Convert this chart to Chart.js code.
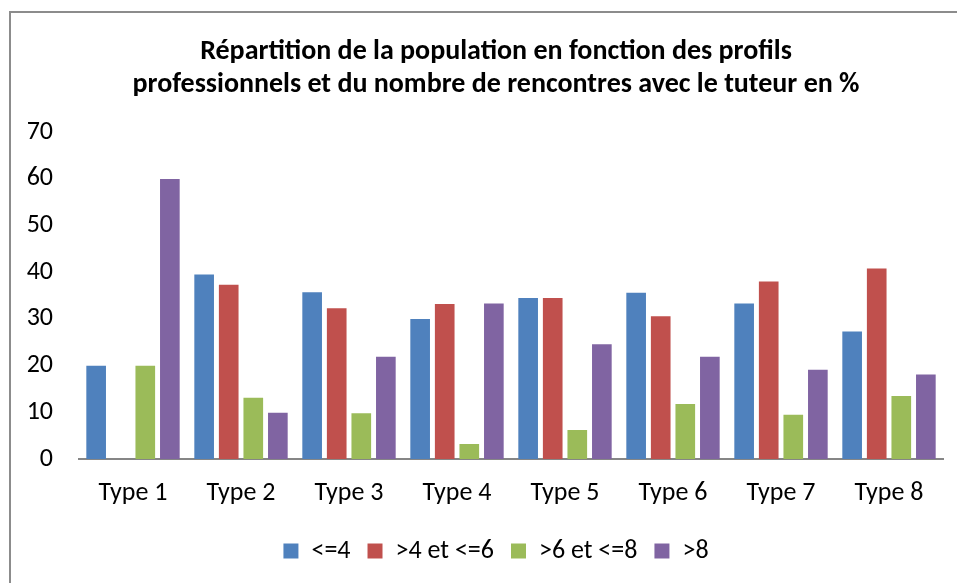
<!DOCTYPE html>
<html>
<head>
<meta charset="utf-8">
<script src="https://cdn.jsdelivr.net/npm/chart.js@4/dist/chart.umd.min.js"></script>
<style>
  html, body { margin: 0; padding: 0; background: #fff; }
  #frame { position: absolute; left: 9px; top: 11px; width: 1000px; height: 700px;
           border-left: 2px solid #8c8c8c; border-top: 2px solid #8c8c8c; }
  #wrap { position: absolute; left: 0; top: 0; width: 957px; height: 583px; }
</style>
</head>
<body>
<div id="frame"></div>
<div id="wrap"><canvas id="chart"></canvas></div>
<script>
  "use strict";
  var categories = ["Type 1", "Type 2", "Type 3", "Type 4", "Type 5", "Type 6", "Type 7", "Type 8"];
  var seriesNames = ["<=4", ">4 et <=6", ">6 et <=8", ">8"];
  var le4 = [20, 39.5, 35.7, 30.0, 34.5, 35.6, 33.3, 27.3];
  var gt4le6 = [0, 37.3, 32.3, 33.2, 34.5, 30.6, 38.0, 40.8];
  var gt6le8 = [20, 13.1, 9.8, 3.2, 6.2, 11.8, 9.5, 13.5];
  var gt8 = [60, 9.9, 21.9, 33.3, 24.6, 21.9, 19.1, 18.1];
  var yTicks = [0, 10, 20, 30, 40, 50, 60, 70];
  var titleLines = [
    "Répartition de la population en fonction des profils",
    "professionnels et du nombre de rencontres avec le tuteur en %"
  ];

  var colors = ["#4F81BD", "#C0504D", "#9BBB59", "#8064A2"];
  var values = [le4, gt4le6, gt6le8, gt8];
  var font = "Carlito, Lato, sans-serif";

  // title + legend are centred a bit right of the canvas centre, like Excel
  var shiftBoxes = {
    id: "shiftBoxes",
    afterLayout: function (chart) {
      if (chart.titleBlock) chart.titleBlock.left += 49;
      if (chart.legend) chart.legend.left += 49;
    }
  };

  new Chart(document.getElementById("chart"), {
    type: "bar",
    data: {
      labels: categories,
      datasets: values.map(function (v, i) {
        return {
          label: seriesNames[i],
          data: v,
          backgroundColor: colors[i],
          categoryPercentage: 0.91,
          barPercentage: 0.8
        };
      })
    },
    options: {
      responsive: true,
      maintainAspectRatio: false,
      animation: false,
      layout: { padding: { left: 0, right: 14, top: 0, bottom: 9 } },
      scales: {
        x: {
          grid: { display: false, drawTicks: false },
          border: { display: true, color: "#868686", width: 2 },
          ticks: { color: "#000", padding: 19, font: { family: font, size: 26 } },
          afterFit: function (s) { s.height = 62; }
        },
        y: {
          min: 0,
          max: 70,
          afterBuildTicks: function (s) {
            s.ticks = yTicks.map(function (t) { return { value: t }; });
          },
          grid: { display: false, drawTicks: false },
          border: { display: false },
          ticks: { color: "#000", padding: 26, font: { family: font, size: 26 } },
          afterFit: function (s) { s.width = 79; }
        }
      },
      plugins: {
        title: {
          display: true,
          text: titleLines,
          color: "#000",
          font: { family: font, size: 28, weight: "bold", lineHeight: 1.2 },
          padding: { top: 35, bottom: 30 }
        },
        legend: {
          position: "bottom",
          labels: {
            color: "#000",
            boxWidth: 15,
            boxHeight: 15,
            padding: 17,
            font: { family: font, size: 26 }
          }
        },
        tooltip: { enabled: false }
      }
    },
    plugins: [shiftBoxes]
  });
</script>
</body>
</html>
